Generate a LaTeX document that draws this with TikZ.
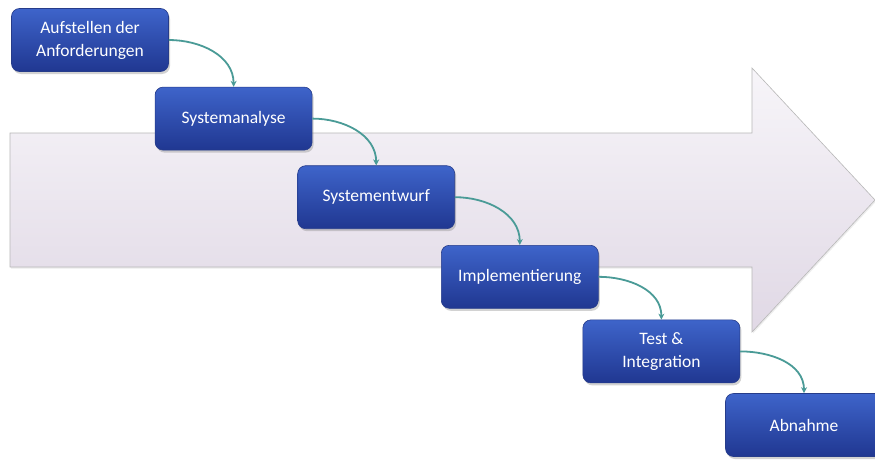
\documentclass[tikz,border=0pt]{standalone}
\usepackage{fontspec}
\newfontfamily\stagefont{Carlito}
\usepackage{xcolor}
\usepackage{tikz}
\usetikzlibrary{arrows.meta, positioning, shadows}
\definecolor{stagetop}{RGB}{62,100,202}
\definecolor{stagebot}{RGB}{32,55,145}
\definecolor{stageline}{RGB}{38,60,138}
\definecolor{flowteal}{RGB}{74,155,151}
\definecolor{bandtop}{RGB}{247,245,249}
\definecolor{bandbot}{RGB}{224,216,229}

\begin{document}
\begin{tikzpicture}[x=1pt, y=1pt,
    stage/.style={draw=stageline, line width=0.6pt, rounded corners=8pt,
        top color=stagetop, bottom color=stagebot, text=white, align=center,
        minimum width=157pt, minimum height=63pt, inner sep=2pt,
        font=\stagefont\fontsize{17.5}{23}\selectfont,
        drop shadow={opacity=0.35, shadow xshift=1.5pt, shadow yshift=-2.5pt}},
    flow/.style={draw=flowteal, line width=1.8pt,
        -{Stealth[length=6pt, width=6pt]}},
    ]
\useasboundingbox (0,0) rectangle (875,-460);
\fill[white] (0,0) rectangle (875,-460);
\path[draw=black!28, line width=0.6pt, top color=bandtop, bottom color=bandbot,
    drop shadow={opacity=0.15, shadow xshift=1pt, shadow yshift=-1.5pt}]
    (10,-133) -- (752,-133) -- (752,-68) -- (875,-200) -- (752,-332)
    -- (752,-267) -- (10,-267) -- cycle;
\node[stage] (req) at (90,-40) {Aufstellen der\\Anforderungen};
\node[stage, below right=15pt and -14pt of req] (ana) {Systemanalyse};
\node[stage, below right=15pt and -15pt of ana] (ent) {Systementwurf};
\node[stage, below right=16pt and -14pt of ent] (imp) {Implementierung};
\node[stage, below right=11pt and -16pt of imp] (tst) {Test \&\\Integration};
\node[stage, below right=10pt and -15pt of tst] (abn) {Abnahme};
\draw[flow] (req.east) to[out=0, in=90] (ana.north);
\draw[flow] (ana.east) to[out=0, in=90] (ent.north);
\draw[flow] (ent.east) to[out=0, in=90] (imp.north);
\draw[flow] (imp.east) to[out=0, in=90] (tst.north);
\draw[flow] (tst.east) to[out=0, in=90] (abn.north);
\end{tikzpicture}
\end{document}
